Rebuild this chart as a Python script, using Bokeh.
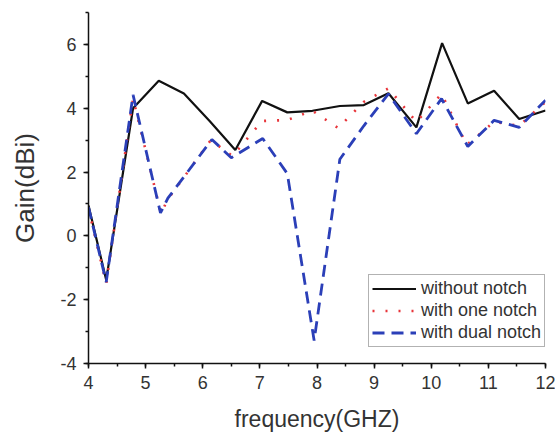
from bokeh.plotting import figure
from bokeh.models import Range1d, SingleIntervalTicker, Legend, LegendItem
from bokeh.embed import file_html
from bokeh.resources import INLINE

# frequency (GHz) and gain (dBi)
freq_none = [4.0, 4.31, 4.78, 5.23, 5.67, 6.12, 6.57, 7.04, 7.48, 7.92, 8.40, 8.82, 9.25, 9.74, 10.19, 10.64, 11.10, 11.54, 12.0]
gain_none = [0.95, -1.38, 4.0, 4.86, 4.46, 3.6, 2.69, 4.23, 3.87, 3.92, 4.07, 4.1, 4.47, 3.4, 6.04, 4.15, 4.55, 3.66, 3.93]

freq_one = [4.0, 4.31, 4.78, 5.27, 5.38, 6.14, 6.52, 7.04, 7.48, 7.92, 8.37, 8.82, 9.25, 9.74, 10.18, 10.62, 11.1, 11.54, 12.0]
gain_one = [0.85, -1.5, 4.3, 0.7, 1.12, 3.0, 2.5, 3.6, 3.63, 3.92, 3.38, 4.2, 4.62, 3.57, 4.45, 2.85, 3.57, 3.45, 4.2]

freq_dual = [4.0, 4.31, 4.78, 5.26, 5.39, 6.16, 6.5, 7.05, 7.48, 7.95, 8.4, 8.82, 9.25, 9.74, 10.18, 10.64, 11.1, 11.54, 12.0]
gain_dual = [0.9, -1.45, 4.42, 0.72, 1.18, 3.02, 2.45, 3.05, 1.95, -3.28, 2.4, 3.45, 4.45, 3.2, 4.3, 2.8, 3.62, 3.4, 4.25]

labels = ["without notch", "with one notch", "with dual notch"]
neg_ticks = {-2: "-2", -4: "-4"}

FONT = "Liberation Sans"
TXT = "#333333"

p = figure(width=555, height=436, output_backend="svg", toolbar_location=None,
           x_range=Range1d(4, 12), y_range=Range1d(-4, 7),
           min_border_left=88, min_border_right=10, min_border_top=12, min_border_bottom=73)
p.outline_line_color = None
p.xgrid.visible = False
p.ygrid.visible = False
p.background_fill_color = "white"

p.xaxis.ticker = SingleIntervalTicker(interval=1, num_minor_ticks=2)
p.yaxis.ticker = SingleIntervalTicker(interval=2, num_minor_ticks=2)
p.yaxis.major_label_overrides = neg_ticks
for ax in (p.xaxis[0], p.yaxis[0]):
    ax.axis_line_color = "#111111"
    ax.axis_line_width = 1.5
    ax.major_tick_line_color = "#111111"
    ax.minor_tick_line_color = "#111111"
    ax.major_tick_line_width = 1.5
    ax.minor_tick_line_width = 1.5
    ax.major_tick_in = 0
    ax.major_tick_out = 5
    ax.minor_tick_in = 0
    ax.minor_tick_out = 3
    ax.major_label_text_font = FONT
    ax.major_label_text_font_size = "18px"
    ax.major_label_text_color = TXT
    ax.axis_label_text_font = FONT
    ax.axis_label_text_font_style = "normal"
    ax.axis_label_text_color = TXT
    ax.major_label_standoff = 7

p.xaxis.axis_label = "frequency(GHZ)"
p.yaxis.axis_label = "Gain(dBi)"
p.xaxis.axis_label_text_font_size = "23px"
p.yaxis.axis_label_text_font_size = "26px"
p.xaxis.axis_label_standoff = 14
p.yaxis.axis_label_standoff = 17

r0 = p.line(freq_none, gain_none, line_color="#111111", line_width=2.2)
r1 = p.line(freq_one, gain_one, line_color="#e8353a", line_width=2.6, line_dash="2 11")
r2 = p.line(freq_dual, gain_dual, line_color="#2b3fb8", line_width=2.8, line_dash="12 7")

legend = Legend(items=[LegendItem(label=labels[0], renderers=[r0]),
                       LegendItem(label=labels[1], renderers=[r1]),
                       LegendItem(label=labels[2], renderers=[r2])],
                location=(280, 16))
legend.label_text_font = FONT
legend.label_text_font_size = "18px"
legend.label_text_color = TXT
legend.glyph_width = 44
legend.glyph_height = 21
legend.label_height = 21
legend.label_standoff = 5
legend.spacing = 1
legend.padding = 3
legend.margin = 0
legend.border_line_color = "#666666"
legend.border_line_width = 1
legend.background_fill_color = "white"
legend.background_fill_alpha = 1.0
p.add_layout(legend, "center")

open("out.html", "w").write(file_html(p, INLINE))
